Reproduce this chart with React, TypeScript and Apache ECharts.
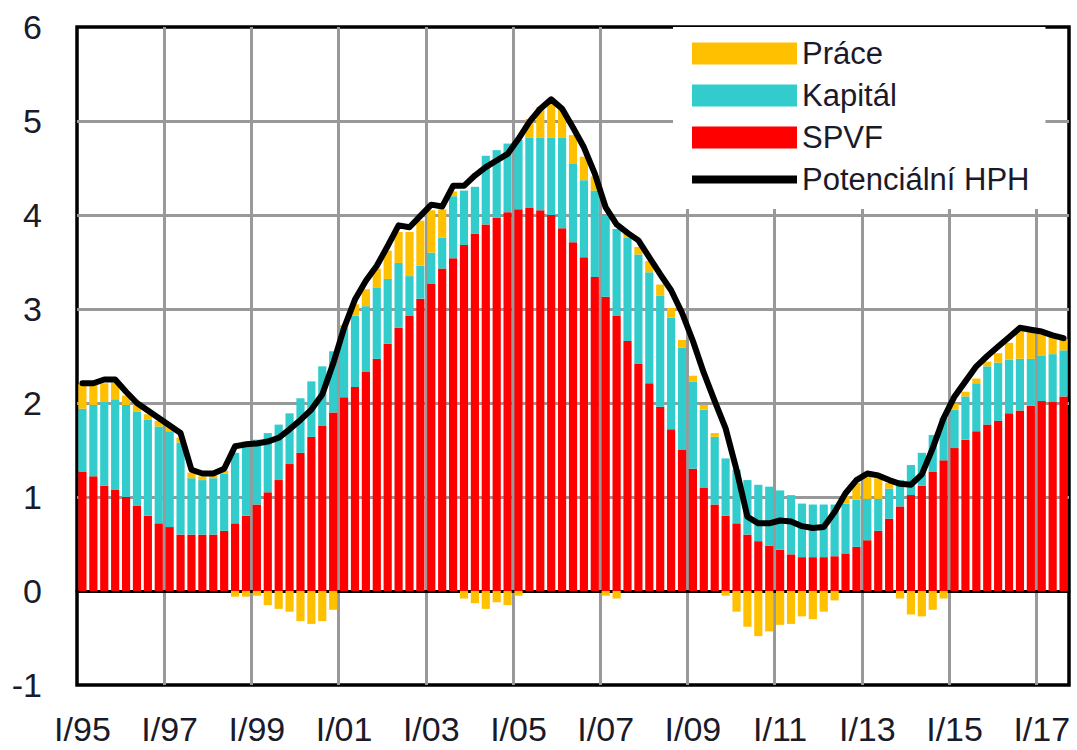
import React, { useEffect, useRef } from "react";
import * as echarts from "echarts";

const yearLabels = ["95","96","97","98","99","00","01","02","03","04","05","06","07","08","09","10","11","12","13","14","15","16","17"];
const quarterLabels = ["I","II","III","IV"];
const categoryCount = 91; // I/95 .. III/17
const categories: string[] = [];
for (const y of yearLabels) for (const q of quarterLabels) categories.push(`${q}/${y}`);
const quarters = categories.slice(0, categoryCount);

const yTicks = { min: -1, max: 6, interval: 1 };

// SPVF (red)
const spvf = [
  1.27,1.22,1.12,1.08,1.00,0.91,0.80,0.72,0.68,0.60,
  0.60,0.60,0.60,0.64,0.72,0.80,0.92,1.05,1.18,1.35,
  1.47,1.64,1.76,1.90,2.06,2.17,2.33,2.47,2.63,2.80,
  2.93,3.11,3.27,3.43,3.54,3.68,3.80,3.90,3.97,4.03,
  4.06,4.08,4.05,4.00,3.86,3.71,3.55,3.34,3.13,2.93,
  2.66,2.42,2.21,1.96,1.72,1.50,1.30,1.10,0.92,0.80,
  0.72,0.60,0.53,0.48,0.44,0.39,0.36,0.36,0.36,0.37,
  0.40,0.47,0.54,0.64,0.77,0.90,1.02,1.12,1.27,1.39,
  1.52,1.61,1.70,1.77,1.81,1.89,1.92,1.97,2.02,2.01,
  2.07,
];

// Kapitál (teal)
const kapital = [
  0.67,0.76,0.89,0.96,0.98,1.00,1.02,1.03,1.02,0.98,
  0.60,0.58,0.60,0.61,0.75,0.79,0.69,0.63,0.59,0.54,
  0.58,0.59,0.63,0.65,0.74,0.76,0.70,0.76,0.69,0.69,
  0.42,0.35,0.33,0.33,0.66,0.58,0.50,0.73,0.72,0.73,
  0.74,0.74,0.77,0.82,0.96,0.84,0.82,0.92,0.86,0.92,
  1.10,1.16,1.18,1.18,1.19,1.09,0.93,0.83,0.72,0.61,
  0.57,0.58,0.60,0.63,0.63,0.63,0.57,0.56,0.56,0.55,
  0.53,0.50,0.44,0.34,0.32,0.28,0.32,0.35,0.39,0.45,
  0.41,0.46,0.51,0.62,0.62,0.57,0.55,0.50,0.48,0.51,
  0.49,
];

// Práce (yellow)
const prace = [
  0.26,0.23,0.20,0.18,0.10,0.08,0.06,0.06,0.04,0.05,
  0.06,0.04,0.03,0.03,-0.06,-0.06,-0.05,-0.15,-0.19,-0.22,
  -0.32,-0.35,-0.32,-0.20,0.03,0.12,0.18,0.20,0.30,0.33,
  0.47,0.48,0.45,0.30,0.05,-0.08,-0.13,-0.19,-0.12,-0.15,
  -0.05,0.20,0.33,0.40,0.30,0.30,0.25,0.15,-0.05,-0.08,
  0.04,0.08,0.12,0.12,0.10,0.08,0.06,0.05,0.04,-0.05,
  -0.22,-0.38,-0.48,-0.43,-0.36,-0.35,-0.27,-0.30,-0.22,-0.10,
  0.08,0.18,0.24,0.22,0.06,-0.08,-0.25,-0.27,-0.20,-0.08,
  0.06,0.05,0.05,0.05,0.10,0.18,0.30,0.30,0.25,0.20,
  0.12,
];

// Potenciální HPH (black line)
const hph = [
  2.21,2.21,2.25,2.25,2.12,2.00,1.92,1.84,1.76,1.68,
  1.29,1.25,1.25,1.30,1.54,1.56,1.57,1.59,1.63,1.72,
  1.82,1.93,2.09,2.42,2.80,3.10,3.30,3.46,3.67,3.89,
  3.87,3.99,4.11,4.09,4.31,4.31,4.42,4.51,4.58,4.65,
  4.81,4.99,5.13,5.23,5.13,4.93,4.72,4.44,4.08,3.90,
  3.81,3.73,3.55,3.37,3.20,2.96,2.66,2.32,2.02,1.73,
  1.29,0.79,0.72,0.72,0.75,0.74,0.69,0.67,0.68,0.84,
  1.04,1.18,1.25,1.23,1.18,1.14,1.13,1.24,1.52,1.84,
  2.07,2.23,2.39,2.50,2.60,2.70,2.80,2.78,2.76,2.72,
  2.69,
];

const FONT = "'Liberation Sans', Arial, sans-serif";

export default function App() {
  const ref = useRef<HTMLDivElement>(null);
  useEffect(() => {
    if (!ref.current) return;
    const chart = echarts.init(ref.current, undefined, { renderer: "svg" });
    chart.setOption({
      animation: false,
      backgroundColor: "#ffffff",
      textStyle: { fontFamily: FONT },
      grid: {
        left: 77,
        right: 8,
        top: 27,
        bottom: 65,
        containLabel: false,
        outerBoundsMode: "none",
        show: true,
        borderColor: "#000",
        borderWidth: 3.5,
        backgroundColor: "transparent",
      },
      legend: {
        orient: "vertical",
        left: 673,
        top: 27,
        padding: [11, 16, 14, 19],
        backgroundColor: "#ffffff",
        itemWidth: 105,
        itemHeight: 22,
        itemGap: 11,
        symbolKeepAspect: true,
        textStyle: { fontSize: 31, lineHeight: 30, color: "#1a1a2a", fontFamily: FONT },
        data: [
          { name: "Práce", icon: "rect" },
          { name: "Kapitál", icon: "rect" },
          { name: "SPVF", icon: "rect" },
          { name: "Potenciální HPH", icon: "path://M0,0L105,0L105,8L0,8Z" },
        ],
        z: 10,
      },
      xAxis: {
        type: "category",
        data: quarters,
        boundaryGap: true,
        axisLine: { show: true, onZero: true, lineStyle: { color: "#000", width: 3 } },
        axisTick: { show: false },
        axisLabel: {
          interval: 7,
          fontSize: 34,
          color: "#1a1a2a",
          margin: 27,
          fontFamily: FONT,
        },
        splitLine: {
          show: true,
          interval: 7,
          showMinLine: false,
          showMaxLine: false,
          lineStyle: { color: "#999", width: 3 },
        },
      },
      yAxis: {
        type: "value",
        min: yTicks.min,
        max: yTicks.max,
        interval: yTicks.interval,
        axisLine: { show: false },
        axisTick: { show: false },
        axisLabel: { fontSize: 34, color: "#1a1a2a", margin: 35, fontFamily: FONT },
        splitLine: {
          show: true,
          showMinLine: false,
          showMaxLine: false,
          lineStyle: { color: "#999", width: 3 },
        },
      },
      series: [
        {
          name: "SPVF",
          type: "bar",
          stack: "a",
          data: spvf,
          barCategoryGap: "25%",
          itemStyle: { color: "#ff0000" },
        },
        {
          name: "Kapitál",
          type: "bar",
          stack: "a",
          data: kapital,
          barCategoryGap: "25%",
          itemStyle: { color: "#33cccc" },
        },
        {
          name: "Práce",
          type: "bar",
          stack: "a",
          data: prace,
          barCategoryGap: "25%",
          itemStyle: { color: "#ffc000" },
        },
        {
          name: "Potenciální HPH",
          type: "line",
          data: hph,
          symbol: "none",
          z: 5,
          lineStyle: { color: "#000", width: 6, join: "round", cap: "round" },
          itemStyle: { color: "#000" },
        },
      ],
    });
    return () => chart.dispose();
  }, []);
  return (
    <div
      ref={ref}
      style={{ position: "fixed", left: 0, top: 0, width: 1077, height: 750, background: "#fff" }}
    />
  );
}
